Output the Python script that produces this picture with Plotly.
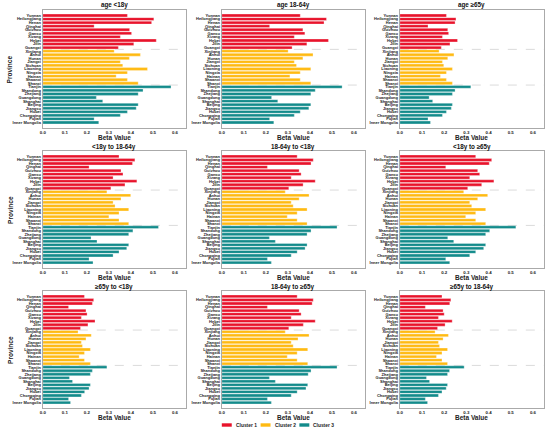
import plotly.graph_objects as go

# provinces, top to bottom, and their cluster
provinces = ["Yunnan", "Heilongjiang", "Henan", "Qinghai", "Guizhou", "Gansu", "Xizang", "Hebei", "Jilin", "Guangxi",
             "Xinjiang", "Anhui", "Hunan", "Jiangxi", "Sichuan", "Liaoning", "Ningxia", "Hainan", "Shaanxi", "Shanxi",
             "Tianjin", "Shandong", "Zhejiang", "Guangdong", "Shanghai", "Beijing", "Jiangsu", "Hubei", "Chongqing",
             "Fujian", "Inner Mongolia"]
clusters = [1]*10 + [2]*10 + [3]*11
cluster_names = ["Cluster 1", "Cluster 2", "Cluster 3"]

titles = ["age <18y", "age 18-64y", "age ≥65y",
          "<18y to 18-64y", "18-64y to <18y", "<18y to ≥65y",
          "≥65y to <18y", "18-64y to ≥65y", "≥65y to 18-64y"]

age_lt18 = [0.384, 0.504, 0.494, 0.233, 0.394, 0.403, 0.352, 0.515, 0.413, 0.343,
            0.324, 0.443, 0.393, 0.352, 0.363, 0.475, 0.384, 0.333, 0.384, 0.433,
            0.582, 0.455, 0.433, 0.243, 0.272, 0.433, 0.424, 0.384, 0.352, 0.233, 0.254]
age_18_64 = [0.356, 0.475, 0.464, 0.217, 0.368, 0.377, 0.329, 0.484, 0.386, 0.319,
             0.301, 0.414, 0.368, 0.329, 0.339, 0.404, 0.356, 0.309, 0.356, 0.404,
             0.546, 0.424, 0.404, 0.226, 0.254, 0.404, 0.395, 0.356, 0.329, 0.217, 0.236]
age_ge65 = [0.210, 0.253, 0.249, 0.127, 0.216, 0.220, 0.192, 0.260, 0.226, 0.187,
            0.177, 0.244, 0.216, 0.192, 0.198, 0.237, 0.210, 0.183, 0.210, 0.237,
            0.320, 0.249, 0.237, 0.132, 0.148, 0.237, 0.232, 0.210, 0.192, 0.127, 0.138]
lt18_to_18_64 = [0.346, 0.418, 0.407, 0.210, 0.355, 0.364, 0.319, 0.427, 0.373, 0.309,
                 0.291, 0.399, 0.355, 0.319, 0.328, 0.390, 0.346, 0.300, 0.346, 0.390,
                 0.525, 0.409, 0.390, 0.219, 0.246, 0.390, 0.381, 0.346, 0.319, 0.210, 0.228]
from18_64_to_lt18 = [0.342, 0.415, 0.405, 0.207, 0.351, 0.360, 0.315, 0.424, 0.369, 0.304,
                     0.288, 0.396, 0.351, 0.315, 0.324, 0.387, 0.342, 0.297, 0.342, 0.387,
                     0.523, 0.405, 0.387, 0.216, 0.243, 0.387, 0.378, 0.342, 0.315, 0.207, 0.225]
lt18_to_ge65 = [0.342, 0.414, 0.403, 0.207, 0.351, 0.360, 0.315, 0.424, 0.369, 0.306,
                0.288, 0.396, 0.351, 0.315, 0.324, 0.387, 0.342, 0.297, 0.342, 0.387,
                0.523, 0.405, 0.387, 0.216, 0.243, 0.387, 0.378, 0.342, 0.315, 0.207, 0.225]
ge65_to_lt18 = [0.189, 0.231, 0.225, 0.117, 0.196, 0.201, 0.175, 0.237, 0.205, 0.171,
                0.160, 0.220, 0.196, 0.175, 0.180, 0.216, 0.189, 0.165, 0.189, 0.216,
                0.291, 0.225, 0.216, 0.121, 0.135, 0.216, 0.210, 0.190, 0.175, 0.117, 0.126]
from18_64_to_ge65 = [0.342, 0.415, 0.410, 0.207, 0.351, 0.360, 0.315, 0.424, 0.370, 0.304,
                     0.288, 0.396, 0.346, 0.315, 0.324, 0.390, 0.342, 0.297, 0.342, 0.390,
                     0.523, 0.405, 0.392, 0.216, 0.243, 0.390, 0.382, 0.342, 0.315, 0.207, 0.225]
ge65_to_18_64 = [0.190, 0.230, 0.225, 0.115, 0.195, 0.200, 0.174, 0.236, 0.204, 0.170,
                 0.159, 0.219, 0.195, 0.174, 0.179, 0.215, 0.190, 0.165, 0.190, 0.215,
                 0.290, 0.224, 0.215, 0.120, 0.134, 0.215, 0.209, 0.190, 0.174, 0.115, 0.125]

panels = [age_lt18, age_18_64, age_ge65,
          lt18_to_18_64, from18_64_to_lt18, lt18_to_ge65,
          ge65_to_lt18, from18_64_to_ge65, ge65_to_18_64]

colors = {1: "#E8132B", 2: "#FFBA12", 3: "#138B8B"}

W, H = 550, 433
col_px = [(40, 184), (220, 364), (399, 544)]
row_px = [(10, 128), (151, 268), (291, 408)]

FONT = "Liberation Sans, Arial, sans-serif"
TXT = "#222222"


def px_y(p):
    # pixel row from the top -> paper fraction
    return 1 - p / H


fig = go.Figure()
shapes = []
annotations = []

for n, vals in enumerate(panels):
    r, c = divmod(n, 3)
    ax = "" if n == 0 else str(n + 1)
    for cl in (1, 2, 3):
        idx = [i for i, k in enumerate(clusters) if k == cl]
        fig.add_trace(go.Bar(
            x=[vals[i] for i in idx],
            y=[provinces[i] for i in idx],
            orientation="h",
            marker=dict(color=colors[cl], line=dict(color="white", width=0.3)),
            name=cluster_names[cl - 1],
            showlegend=False,
            width=0.8,
            xaxis="x" + ax, yaxis="y" + ax,
        ))
    x0, x1 = col_px[c]
    y0, y1 = row_px[r]
    fig.layout["xaxis" + ax] = dict(
        domain=[x0 / W, x1 / W], anchor="y" + ax, range=[0, 0.65],
        tickvals=[0, 0.1, 0.2, 0.3, 0.4, 0.5, 0.6], tickformat=".1f",
        tickfont=dict(size=4.4, family=FONT, color=TXT, weight="bold"),
        showgrid=False, zeroline=False, showline=True, mirror=True,
        linecolor="#aaaaaa", linewidth=1, ticklen=0,
    )
    fig.layout["yaxis" + ax] = dict(
        domain=[px_y(y1), px_y(y0)], anchor="x" + ax,
        type="category", categoryorder="array", categoryarray=provinces,
        tickmode="array", tickvals=provinces, ticktext=provinces,
        range=[len(provinces) - 1 + 1.54, -1.54],
        tickfont=dict(size=4.0, family=FONT, color=TXT, weight="bold"),
        showgrid=False, zeroline=False, showline=True, mirror=True,
        linecolor="#aaaaaa", linewidth=1, ticklen=0,
    )
    for yv in (9.5, 19.5):
        shapes.append(dict(type="line", xref="x" + ax + " domain", yref="y" + ax,
                           x0=0, x1=1, y0=yv, y1=yv,
                           line=dict(color="#cccccc", width=0.7, dash="dash"), layer="below"))
    # panel title
    annotations.append(dict(text=titles[n], xref="paper", yref="paper",
                            x=(x0 + x1) / 2 / W, y=px_y(y0 - 4.5),
                            xanchor="center", yanchor="middle", showarrow=False,
                            font=dict(size=6.3, family=FONT, color="#111", weight="bold")))
    # x-axis title
    annotations.append(dict(text="Beta Value", xref="paper", yref="paper",
                            x=(x0 + x1) / 2 / W, y=px_y(y1 + 9.5),
                            xanchor="center", yanchor="middle", showarrow=False,
                            font=dict(size=6.5, family=FONT, color=TXT, weight="bold")))
    if c == 0:
        annotations.append(dict(text="Province", xref="paper", yref="paper",
                                x=7.5 / W, y=px_y((y0 + y1) / 2), textangle=-90,
                                xanchor="center", yanchor="middle", showarrow=False,
                                font=dict(size=6.5, family=FONT, color=TXT, weight="bold")))

# legend row under the middle column
legend_x = [220, 259, 298]
legend_y = 425
for cl, lx in zip((1, 2, 3), legend_x):
    shapes.append(dict(type="rect", xref="paper", yref="paper",
                       x0=lx / W, x1=(lx + 10) / W,
                       y0=px_y(legend_y + 1.7), y1=px_y(legend_y - 1.7),
                       fillcolor=colors[cl], line=dict(width=0)))
    annotations.append(dict(text=cluster_names[cl - 1], xref="paper", yref="paper",
                            x=(lx + 12) / W, y=px_y(legend_y),
                            xanchor="left", yanchor="middle", showarrow=False,
                            font=dict(size=4.9, family=FONT, color=TXT, weight="bold")))

fig.update_layout(
    width=W, height=H,
    margin=dict(l=0, r=0, t=0, b=0),
    paper_bgcolor="white", plot_bgcolor="white",
    barmode="overlay",
    showlegend=False,
    shapes=shapes, annotations=annotations,
)

fig.write_html("out.html", config={"displayModeBar": False},
               post_script="document.body.style.margin = '0';")
